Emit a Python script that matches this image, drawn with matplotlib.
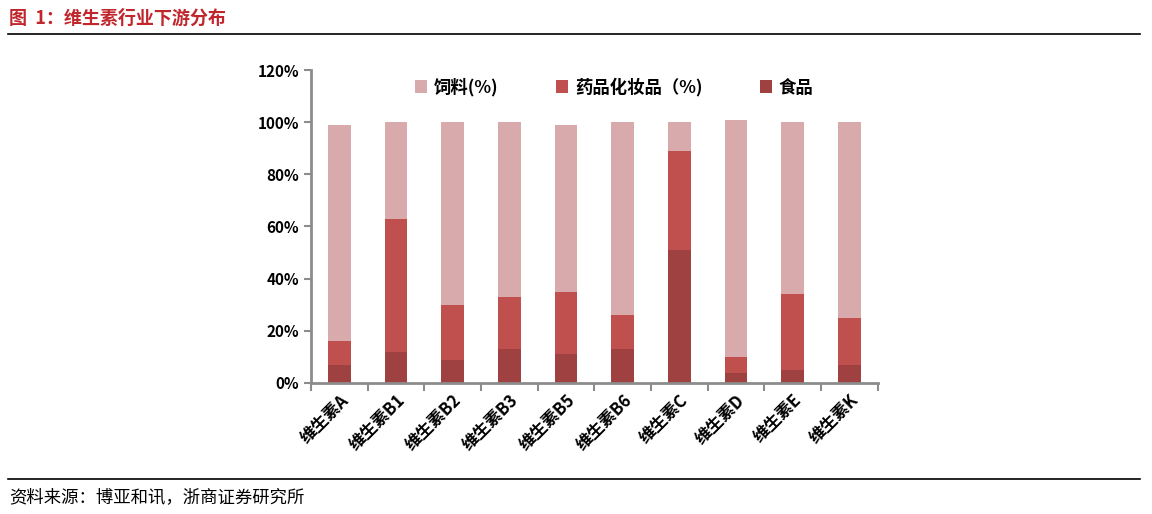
import matplotlib
matplotlib.use("Agg")
import matplotlib.pyplot as plt
import numpy as np
from matplotlib.ticker import FuncFormatter

plt.rcParams['font.family'] = ['Noto Sans CJK SC', 'DejaVu Sans']

categories = ['维生素A', '维生素B1', '维生素B2', '维生素B3', '维生素B5',
              '维生素B6', '维生素C', '维生素D', '维生素E', '维生素K']
food = [7, 12, 9, 13, 11, 13, 51, 4, 5, 7]
pharma = [9, 51, 21, 20, 24, 13, 38, 6, 29, 18]
feed = [83, 37, 70, 67, 64, 74, 11, 91, 66, 75]

fig = plt.figure(figsize=(11.52, 5.14), dpi=100)
ax = fig.add_axes([0.27, 0.2549, 0.492, 0.6089])

x = np.arange(len(categories))
w = 0.4
food = np.array(food)
pharma = np.array(pharma)
feed = np.array(feed)
ax.bar(x, food, w, color='#9E4140', label='食品')
ax.bar(x, pharma, w, bottom=food, color='#C0504D', label='药品化妆品（%)')
ax.bar(x, feed, w, bottom=food + pharma, color='#D9AAAB', label='饲料(%)')

ax.set_xlim(-0.5, len(categories) - 0.5)
ax.set_ylim(0, 120)
ax.set_yticks(range(0, 121, 20))
ax.yaxis.set_major_formatter(FuncFormatter(lambda v, p: '%d%%' % v))
for s in ['top', 'right']:
    ax.spines[s].set_visible(False)
for s in ['left', 'bottom']:
    ax.spines[s].set_color('#8C8C8C')
    ax.spines[s].set_linewidth(2)
ax.tick_params(axis='y', colors='#8C8C8C', length=5, width=1.5, labelsize=11, labelcolor='black')
ax.set_xticks(np.arange(-0.5, len(categories), 1.0))
ax.set_xticklabels([])
ax.set_xticks(x, minor=True)
ax.set_xticklabels(categories, minor=True, rotation=45, ha='right', rotation_mode='anchor',
                   fontsize=12, fontweight='bold')
ax.tick_params(axis='x', which='major', colors='#8C8C8C', length=6, width=1.5)
ax.tick_params(axis='x', which='minor', length=0, pad=6)
for lab in ax.get_yticklabels():
    lab.set_fontweight('bold')

h, l = ax.get_legend_handles_labels()
ax.legend(h[::-1], l[::-1], ncol=3, loc='upper center', bbox_to_anchor=(0.535, 1.025),
          frameon=False, handlelength=0.7, handleheight=0.7,
          columnspacing=3.3, handletextpad=0.4, prop={'weight': 'bold', 'size': 12.5})

fig.text(0.008, 0.965, '图  1：维生素行业下游分布', color='#C0262C', fontsize=13,
         fontweight='bold', va='center')
fig.add_artist(plt.Line2D([0.007, 0.99], [0.933, 0.933], color='black', lw=1.2))
fig.add_artist(plt.Line2D([0.007, 0.99], [0.068, 0.068], color='black', lw=1.2))
fig.text(0.008, 0.032, '资料来源：博亚和讯，浙商证券研究所', fontsize=12.5, va='center')

fig.savefig('out.png', dpi=100)
